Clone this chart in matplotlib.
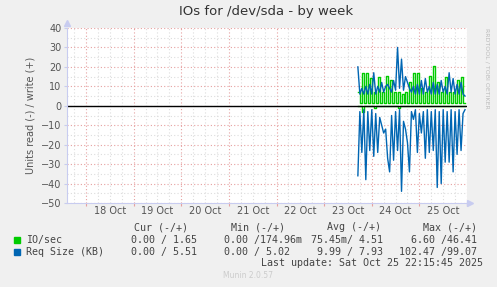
import matplotlib
matplotlib.use('Agg')
import matplotlib.pyplot as plt
import matplotlib.dates as mdates
import numpy as np
import pandas as pd

# hourly samples, 23 Oct 17:00 -> 25 Oct 23:00
times = pd.date_range('2025-10-23 17:00', periods=55, freq='h')

ios_write = [7, 1.5, 17, 1.5, 17, 1.5, 14.5, 1.5, 7, 1.5, 15, 1.5, 7, 1.5, 15.5, 1.5,
             13.5, 1.5, 7, 1.5, 7, 1.5, 6, 1.5, 7, 1.5, 12, 1.5, 17, 1.5, 17, 1.5,
             9, 1.5, 7, 1.5, 15.5, 1.5, 20.5, 1.5, 12, 1.5, 7, 1.5, 15, 1.5, 7, 1.5,
             7, 1.5, 13.5, 1.5, 15, 1.5, 1.5]
ios_read = [0, 0, -3, 0, 0, 0, 0, 0, -1, 0, 0, 0, 0, 0, 0, 0, 0, 0, 0, 0, -1, 0, 0, 0,
            0, 0, 0, 0, 0, 0, 0, 0, 0, 0, 0, 0, 0, 0, 0, 0, 0, 0, 0, 0, 0, 0, 0, 0,
            0, 0, 0, 0, 0, 0, 0]
size_write = [20, 6, 9, 6, 10, 6, 11, 6, 17, 6, 10, 7, 12, 7, 10, 11, 9, 7, 13, 8,
              30, 9, 24, 8, 15, 12, 9, 7, 10, 6, 11, 6, 13, 6, 14, 7, 10, 6, 12, 6,
              11, 6, 13, 7, 10, 6, 17, 7, 14, 6, 11, 6, 12, 6, 5]
size_read = [-36, -3, -24, -2, -38, -3, -23, -2, -26, -4, -24, -6, -10, -14, -12, -27,
             -34, -5, -28, -3, -23, -2, -44, -8, -12, -19, -34, -3, -7, -2, -24, -4,
             -14, -3, -27, -2, -24, -3, -23, -2, -42, -3, -40, -2, -29, -3, -29, -2,
             -34, -3, -25, -2, -23, -4, -2]

day_labels = ['18 Oct', '19 Oct', '20 Oct', '21 Oct', '22 Oct', '23 Oct', '24 Oct', '25 Oct']
legend_names = ['IO/sec', 'Req Size (KB)']
legend_cur = ['0.00 / 1.65', '0.00 / 5.51']
legend_min = ['0.00 /174.96m', '0.00 / 5.02']
legend_avg = ['75.45m/ 4.51', '9.99 / 7.93']
legend_max = ['6.60 /46.41', '102.47 /99.07']

GREEN = '#00CC00'
BLUE = '#0066B3'
W, H = 497, 287

fig = plt.figure(figsize=(W / 100, H / 100), dpi=100, facecolor='#F0F0F0')
ax = fig.add_axes([67 / W, 1 - 203 / H, 400 / W, 175 / H])
ax.set_facecolor('white')

ax.plot(times, ios_read, color=GREEN, lw=1.0, drawstyle='steps-post')
ax.plot(times, ios_write, color=GREEN, lw=1.0, drawstyle='steps-post')
ax.plot(times, size_read, color=BLUE, lw=1.0)
ax.plot(times, size_write, color=BLUE, lw=1.0)
ax.axhline(0, color='black', lw=1.0)

ax.set_ylim(-50, 40)
ax.set_xlim(pd.Timestamp('2025-10-17 14:24'), pd.Timestamp('2025-10-26 00:00'))

ax.set_yticks(np.arange(-50, 41, 10))
ax.set_yticks(np.arange(-50, 41, 5), minor=True)
midnights = pd.date_range('2025-10-18', '2025-10-26', freq='D')
ax.set_xticks(mdates.date2num(midnights))
ax.set_xticklabels([])
ax.set_xticks(mdates.date2num(pd.date_range('2025-10-17 18:00', '2025-10-26', freq='6h')), minor=True)
noons = pd.date_range('2025-10-18 12:00', periods=len(day_labels), freq='D')
for t, lab in zip(noons, day_labels):
    ax.text(mdates.date2num(t), -51.5, lab, ha='center', va='top', fontsize=7, color='#555555')

ax.grid(which='minor', color='#DDDDDD', ls=(0, (1, 2)), lw=0.8)
ax.grid(which='major', color='#E6A0A0', ls=(0, (1, 2)), lw=0.8)
ax.set_axisbelow(True)
ax.tick_params(axis='y', which='major', labelsize=7, labelcolor='#555555', color='#C8CCEE', length=2, pad=2)
ax.tick_params(axis='x', which='major', length=2, color='#E6A0A0')
ax.tick_params(which='minor', length=0)

for s in ['top', 'right']:
    ax.spines[s].set_visible(False)
for s in ['left', 'bottom']:
    ax.spines[s].set_color('#C8CCF0')
ax.plot([0], [1.03], marker='^', color='#C8CCF0', ms=4, transform=ax.transAxes, clip_on=False)
ax.plot([1.008], [0], marker='>', color='#C8CCF0', ms=4, transform=ax.transAxes, clip_on=False)

ax.set_ylabel('Units read (-) / write (+)', fontsize=7, color='#555555', labelpad=4)
fig.text(266 / W, 1 - 12 / H, 'IOs for /dev/sda - by week', ha='center', va='center',
         fontsize=9.5, color='#333333')
fig.text(487 / W, 1 - 28 / H, 'RRDTOOL / TOBI OETIKER', rotation=270, ha='center', va='top',
         fontsize=4.5, color='#BBBBBB')

mono = dict(family='DejaVu Sans Mono', fontsize=7.2, color='#444444', va='center')
fig.text(134 / W, 1 - 227 / H, 'Cur (-/+)', **mono)
fig.text(231 / W, 1 - 227 / H, 'Min (-/+)', **mono)
fig.text(327 / W, 1 - 227 / H, 'Avg (-/+)', **mono)
fig.text(423 / W, 1 - 227 / H, 'Max (-/+)', **mono)
for i, (name, col) in enumerate(zip(legend_names, [GREEN, BLUE])):
    y = 1 - (240 + 12 * i) / H
    fig.patches.append(plt.Rectangle((14 / W, y - 3 / H), 6 / W, 6 / H, color=col,
                                     transform=fig.transFigure))
    fig.text(26 / W, y, name, **mono)
    fig.text(197 / W, y, legend_cur[i], ha='right', **mono)
    fig.text(224 / W, y, legend_min[i], ha='left', **mono)
    fig.text(383 / W, y, legend_avg[i], ha='right', **mono)
    fig.text(477 / W, y, legend_max[i], ha='right', **mono)
fig.text(483 / W, 1 - 263 / H, 'Last update: Sat Oct 25 22:15:45 2025', ha='right', **mono)
fig.text(248 / W, 1 - 276 / H, 'Munin 2.0.57', ha='center', va='center', fontsize=5.5, color='#CCCCCC')

fig.savefig('out.png', dpi=100, facecolor=fig.get_facecolor())
